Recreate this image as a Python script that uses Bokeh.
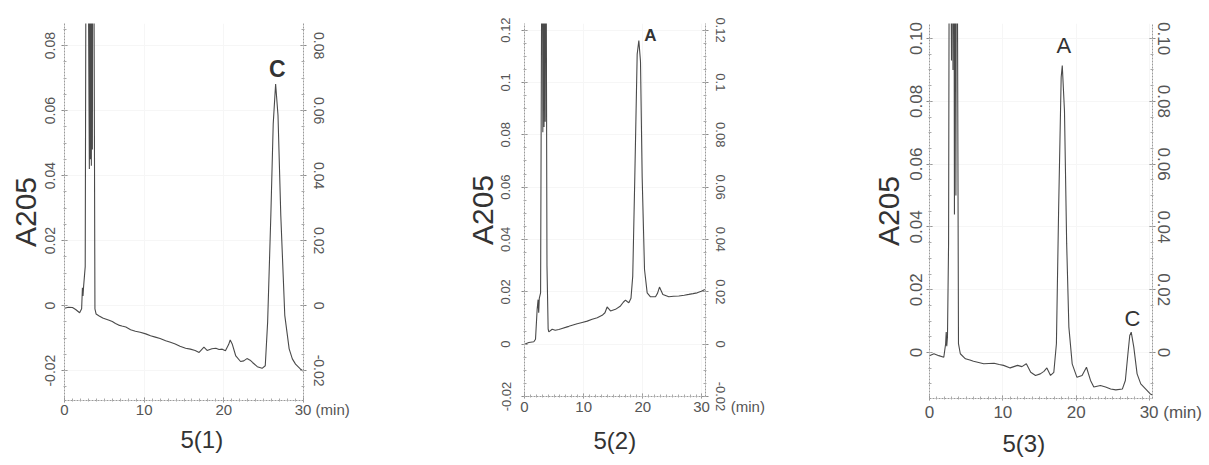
import math
from bokeh.plotting import figure
from bokeh.layouts import row
from bokeh.models import Range1d, LinearAxis, FixedTicker, Label, Title
from bokeh.embed import file_html
from bokeh.resources import INLINE

# ---------------- data ----------------
# Panel 5(1)
t1 = [0.0, 0.5, 1.0, 1.4, 1.9, 2.15, 2.25, 2.32, 2.4, 2.6, 2.78, 3.12, 3.17, 3.24, 3.3, 3.37,
      3.44, 3.5, 3.58, 3.82, 3.97, 4.3, 4.8, 5.15, 5.6, 6.0, 6.4, 6.8, 7.2, 7.7, 8.3, 8.9, 9.5,
      10.2, 10.8, 11.4, 12.0, 12.7, 13.3, 13.9, 14.5, 15.2, 15.8, 16.4, 16.9, 17.5, 17.9, 18.5,
      19.0, 19.4, 19.8, 20.2, 20.6, 20.8, 21.05, 21.5, 22.1, 22.5, 22.9, 23.3, 23.6, 24.2, 24.8,
      25.2, 25.5, 25.9, 26.2, 26.5, 26.8, 27.15, 27.65, 28.2, 28.6, 29.0, 29.6, 30.0]
a1 = [-0.0008, -0.0005, -0.0006, -0.0012, -0.0022, -0.0010, 0.0055, 0.0030, 0.0060, 0.0120,
      0.2, 0.042, 0.2, 0.045, 0.2, 0.043, 0.2, 0.048, 0.2, -0.0010, -0.0026, -0.0031, -0.0038,
      -0.0041, -0.0045, -0.0049, -0.0055, -0.0060, -0.0063, -0.0066, -0.0074, -0.0079, -0.0082,
      -0.0087, -0.0093, -0.0097, -0.0101, -0.0108, -0.0113, -0.0118, -0.0125, -0.0131, -0.0134,
      -0.0138, -0.0144, -0.0128, -0.0138, -0.0133, -0.0131, -0.0135, -0.0134, -0.0139, -0.0120,
      -0.0106, -0.0118, -0.0155, -0.0172, -0.0170, -0.0163, -0.0168, -0.0175, -0.0188, -0.0193,
      -0.0185, -0.0050, 0.0277, 0.0560, 0.0682, 0.0585, 0.0277, -0.0030, -0.0133, -0.0164,
      -0.0180, -0.0195, -0.0202]

# Panel 5(2)
t2 = [0.0, 0.73, 1.58, 1.86, 2.14, 2.3, 2.4, 2.5, 2.72, 3.0, 3.1, 3.2, 3.3, 3.4, 3.5, 3.6, 3.8,
      4.0, 4.11, 4.68, 5.2, 5.8, 6.35, 6.93, 7.5, 8.06, 8.9, 9.75, 10.6, 11.44, 12.3, 13.13,
      13.6, 13.97, 14.25, 14.54, 15.38, 16.23, 16.7, 17.07, 17.35, 17.64, 18.0, 18.3, 18.65,
      19.05, 19.33, 19.61, 19.89, 20.29, 20.74, 21.3, 22.15, 22.5, 22.82, 23.39, 24.4, 25.2,
      26.09, 27.0, 27.78, 28.5, 29.19, 29.9, 30.49]
a2 = [0.0000, 0.0006, 0.0009, 0.0019, 0.0133, 0.0170, 0.0120, 0.0175, 0.0196, 0.2, 0.081, 0.2,
      0.083, 0.2, 0.085, 0.2, 0.030, 0.0057, 0.0047, 0.0057, 0.0053, 0.0056, 0.0060, 0.0064,
      0.0068, 0.0072, 0.0078, 0.0083, 0.0088, 0.0095, 0.0101, 0.0110, 0.0120, 0.0142, 0.0135,
      0.0127, 0.0133, 0.0146, 0.0160, 0.0168, 0.0163, 0.0158, 0.0175, 0.0260, 0.0640, 0.1108,
      0.1160, 0.1080, 0.0640, 0.0285, 0.0196, 0.0181, 0.0181, 0.0195, 0.0218, 0.0190, 0.0181,
      0.0183, 0.0184, 0.0187, 0.0190, 0.0193, 0.0196, 0.0202, 0.0209]

# Panel 5(3)
t3 = [0.0, 0.6, 1.27, 1.95, 2.2, 2.28, 2.35, 2.45, 2.6, 2.75, 3.0, 3.1, 3.2, 3.3, 3.4, 3.5, 3.6,
      3.7, 3.95, 4.2, 4.9, 5.5, 6.0, 6.7, 7.4, 8.1, 8.8, 9.5, 10.1, 11.0, 12.0, 12.6, 13.2, 13.8,
      14.45, 15.1, 15.6, 16.0, 16.5, 16.95, 17.3, 17.6, 17.95, 18.1, 18.4, 18.7, 19.0, 19.45,
      20.1, 20.8, 21.4, 21.95, 22.4, 23.3, 24.0, 24.7, 25.4, 26.3, 26.7, 27.05, 27.3, 27.5,
      27.85, 28.3, 28.8, 29.45, 30.1, 30.4]
a3 = [-0.0010, -0.0004, -0.0010, -0.0015, 0.0028, 0.0065, 0.0020, 0.0050, 0.0346, 0.2, 0.093,
      0.2, 0.090, 0.2, 0.044, 0.2, 0.050, 0.2, 0.0028, -0.0004, -0.0020, -0.0024, -0.0028,
      -0.0032, -0.0036, -0.0035, -0.0034, -0.0038, -0.0041, -0.0049, -0.0041, -0.0045, -0.0036,
      -0.0063, -0.0073, -0.0068, -0.0060, -0.0049, -0.0073, -0.0063, 0.0028, 0.0452, 0.0877,
      0.0914, 0.0770, 0.0346, 0.0081, -0.0036, -0.0079, -0.0073, -0.0047, -0.0089, -0.0110,
      -0.0105, -0.0110, -0.0116, -0.0119, -0.0116, -0.0089, -0.0004, 0.0054, 0.0065, 0.0017,
      -0.0068, -0.0100, -0.0116, -0.0132, -0.0135]

# tick values / labels
x_ticks = [0, 10, 20, 30]
x_labels = ["0", "10", "20", "30"]
x_unit = "(min)"
y1_ticks = [-0.02, 0, 0.02, 0.04, 0.06, 0.08]
y1_labels = ["-0.02", "0", "0.02", "0.04", "0.06", "0.08"]
y2_ticks = [-0.02, 0, 0.02, 0.04, 0.06, 0.08, 0.1, 0.12]
y2_labels = ["-0.02", "0", "0.02", "0.04", "0.06", "0.08", "0.1", "0.12"]
y3_ticks = [0, 0.02, 0.04, 0.06, 0.08, 0.1]
y3_labels = ["0", "0.02", "0.04", "0.06", "0.08", "0.10"]

titles = ["5(1)", "5(2)", "5(3)"]
y_title = "A205"
FONT = "Liberation Sans"
LINE = "#4a4a4a"
NBSP = "\u00a0"


def style_axis(ax, size, standoff, tick_out=3):
    ax.axis_line_color = "#9a9a9a"
    ax.axis_line_dash = "2 1"
    ax.axis_line_width = 1
    ax.major_tick_in = 3
    ax.major_tick_out = tick_out
    ax.minor_tick_in = 2
    ax.minor_tick_out = 1
    ax.major_tick_line_color = "#888888"
    ax.minor_tick_line_color = "#aaaaaa"
    ax.major_label_text_font = FONT
    ax.major_label_text_font_size = size
    ax.major_label_text_color = "#555555"
    ax.major_label_standoff = standoff


def make_panel(t, a, xr, yr, yt, yl, fw, fh, bl, br, bt, bb, ysize, xsize, sl, sr, sb,
               title, title_offset, title_standoff, ytitle_standoff, unit_gap):
    p = figure(x_range=Range1d(*xr), y_range=Range1d(*yr), frame_width=fw, frame_height=fh,
               min_border_left=bl, min_border_right=br, min_border_top=bt, min_border_bottom=bb,
               output_backend="svg", toolbar_location=None, outline_line_color=None,
               background_fill_color="white", border_fill_color="white")
    p.grid.grid_line_color = "#f6f6f6"
    p.xgrid.ticker = FixedTicker(ticks=x_ticks)
    p.ygrid.ticker = FixedTicker(ticks=yt)
    p.line(t, a, line_color=LINE, line_width=1.1)

    xminor = [float(i) for i in range(0, 31)]
    yminor = [round(-0.03 + 0.005 * i, 4) for i in range(0, 32)]
    overrides = {v: s for v, s in zip(yt, yl)}

    # last x label carries the unit; leading no-break spaces keep "30" centred on its tick
    xo = {v: s for v, s in zip(x_ticks, x_labels)}
    xo[x_ticks[-1]] = NBSP * (8 + unit_gap) + x_labels[-1] + NBSP * unit_gap + x_unit
    p.xaxis.ticker = FixedTicker(ticks=x_ticks, minor_ticks=xminor)
    p.xaxis.major_label_overrides = xo
    style_axis(p.xaxis[0], xsize, sb, tick_out=2)

    p.yaxis.ticker = FixedTicker(ticks=yt, minor_ticks=yminor)
    p.yaxis.major_label_overrides = overrides
    p.yaxis.major_label_orientation = "vertical"
    style_axis(p.yaxis[0], ysize, sl)

    r = LinearAxis(ticker=FixedTicker(ticks=yt, minor_ticks=yminor),
                   major_label_overrides=overrides, major_label_orientation="vertical")
    style_axis(r, ysize, sr)
    p.add_layout(r, "right")

    p.add_layout(Title(text=title, align="left", offset=title_offset, standoff=title_standoff,
                       text_font=FONT, text_font_size="24px", text_font_style="normal",
                       text_color="#333333"), "below")
    p.add_layout(Title(text=y_title, align="center", offset=0, standoff=ytitle_standoff,
                       text_font=FONT, text_font_size="30px", text_font_style="normal",
                       text_color="#333333"), "left")
    return p


p1 = make_panel(t1, a1, (0, 30), (-0.0292, 0.0868), y1_ticks, y1_labels,
                239, 377, 64, 107, 18, 70, "14px", "15px", 6, 7, -2,
                titles[0], 116, 6, 2, 1)
p2 = make_panel(t2, a2, (0, 30.6), (-0.02, 0.1225), y2_ticks, y2_labels,
                181, 373, 114, 110, 22, 70, "13px", "15px", 11, 7, -1,
                titles[1], 69, 14, 0, 5)
p3 = make_panel(t3, a3, (0, 30.4), (-0.01465, 0.1048), y3_ticks, y3_labels,
                223, 375, 114, 57, 23, 67, "17px", "17px", 4, 2, 2,
                titles[2], 73, 6, 6, 1)


def lab(p, x, y, text, size, style="normal"):
    p.add_layout(Label(x=x, y=y, text=text, text_font=FONT, text_font_size=size,
                       text_font_style=style, text_align="center", text_baseline="middle",
                       text_color="#333333"))


# peak names
lab(p1, 26.7, 0.0729, "C", "23px", style="bold")
lab(p2, 21.3, 0.1179, "A", "17px", style="bold")
lab(p3, 18.3, 0.0978, "A", "22px")
lab(p3, 27.66, 0.0108, "C", "22px")

layout = row(p1, p2, p3)
open("out.html", "w").write(file_html(layout, INLINE))
